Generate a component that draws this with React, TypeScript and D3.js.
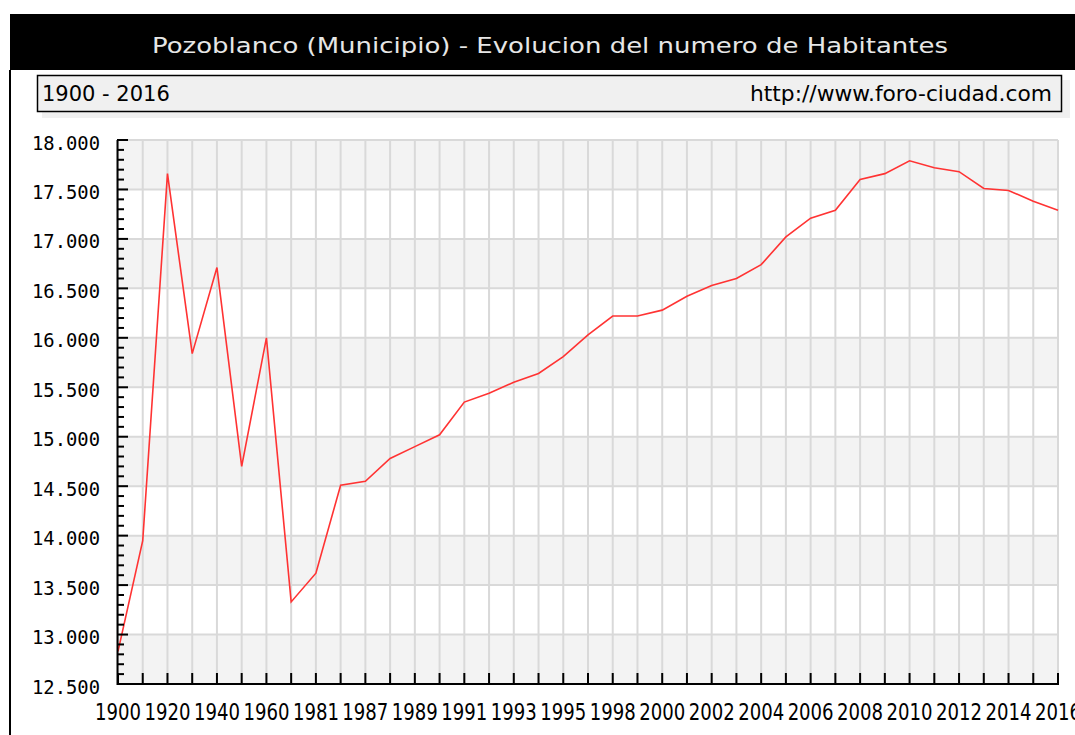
import React from "react";
import * as d3 from "d3";

const width = 1075;
const height = 735;

const titleText = "Pozoblanco (Municipio) - Evolucion del numero de Habitantes";
const rangeText = "1900 - 2016";
const sourceText = "http://www.foro-ciudad.com";

const years = [
  "1900", "1910", "1920", "1930", "1940", "1950", "1960", "1970", "1981",
  "1986", "1987", "1988", "1989", "1990", "1991", "1992", "1993", "1994",
  "1995", "1996", "1998", "1999", "2000", "2001", "2002", "2003", "2004",
  "2005", "2006", "2007", "2008", "2009", "2010", "2011", "2012", "2013",
  "2014", "2015", "2016",
];

const habitantes = [
  12830, 13950, 17660, 15840, 16710, 14700, 16000, 13330, 13620,
  14510, 14550, 14780, 14900, 15020, 15350, 15440, 15550, 15640,
  15810, 16030, 16220, 16220, 16280, 16420, 16530, 16600, 16740,
  17020, 17210, 17290, 17600, 17660, 17790, 17720, 17680, 17510,
  17490, 17380, 17290,
];

const yMajorTicks = [12500, 13000, 13500, 14000, 14500, 15000, 15500, 16000, 16500, 17000, 17500, 18000];

const plot = { left: 118, right: 1058, top: 140, bottom: 684 };

const esFormat = d3
  .formatLocale({ decimal: ",", thousands: ".", grouping: [3], currency: ["", ""] })
  .format(",.0f");

export default function App() {
  const x = d3.scalePoint<string>().domain(years).range([plot.left, plot.right]);
  const y = d3.scaleLinear().domain([12500, 18000]).range([plot.bottom, plot.top]);

  const minorTicks = d3.range(12500, 18001, 100);

  const line = d3
    .line<number>()
    .x((_, i) => x(years[i]) as number)
    .y((d) => y(d));

  return (
    <svg
      width={width}
      height={height}
      style={{ position: "absolute", left: 0, top: 0, background: "#ffffff" }}
    >
      {/* title bar */}
      <rect x={10} y={14} width={1065} height={56} fill="#000000" />
      <text
        x={550}
        y={53}
        fill="#e6e6e6"
        textAnchor="middle"
        textLength={796}
        lengthAdjust="spacingAndGlyphs"
        style={{ fontFamily: "DejaVu Sans", fontSize: "22px" }}
      >
        {titleText}
      </text>
      <line x1={10} x2={10} y1={70} y2={height} stroke="#000000" strokeWidth={2} />

      {/* subtitle box */}
      <rect x={42} y={80} width={1028} height={38} fill="#f0f0f0" />
      <rect x={37.5} y={75.5} width={1024} height={36} fill="#f0f0f0" stroke="#000000" strokeWidth={1.5} />
      <text x={42} y={101} fill="#000000" style={{ fontFamily: "DejaVu Sans", fontSize: "21px" }}>
        {rangeText}
      </text>
      <text
        x={1052}
        y={101}
        fill="#000000"
        textAnchor="end"
        textLength={302}
        lengthAdjust="spacingAndGlyphs"
        style={{ fontFamily: "DejaVu Sans", fontSize: "21px" }}
      >
        {sourceText}
      </text>

      {/* alternating bands */}
      {yMajorTicks.slice(0, -1).map((v, i) => (
        <rect
          key={"band" + v}
          x={plot.left}
          y={y(v + 500)}
          width={plot.right - plot.left}
          height={y(v) - y(v + 500)}
          fill={i % 2 === 0 ? "#f3f3f3" : "#ffffff"}
        />
      ))}

      {/* grid */}
      {yMajorTicks.map((v) => (
        <line
          key={"hg" + v}
          x1={plot.left}
          x2={plot.right}
          y1={y(v)}
          y2={y(v)}
          stroke="#d9d9d9"
          strokeWidth={2}
        />
      ))}
      {years.map((yr) => (
        <line
          key={"vg" + yr}
          x1={x(yr)}
          x2={x(yr)}
          y1={plot.top}
          y2={plot.bottom}
          stroke="#d9d9d9"
          strokeWidth={2}
        />
      ))}

      {/* data line */}
      <path d={line(habitantes) || ""} fill="none" stroke="#ff3333" strokeWidth={1.6} />

      {/* y axis */}
      <line x1={117.5} x2={117.5} y1={plot.top} y2={plot.bottom + 1} stroke="#000000" strokeWidth={2} />
      {minorTicks.map((v) => (
        <line
          key={"yt" + v}
          x1={117}
          x2={v % 500 === 0 ? 128 : 124}
          y1={y(v)}
          y2={y(v)}
          stroke="#000000"
          strokeWidth={2}
        />
      ))}
      {yMajorTicks.map((v) => (
        <text
          key={"yl" + v}
          x={100}
          y={y(v) + 9.5}
          textAnchor="end"
          textLength={68}
          lengthAdjust="spacingAndGlyphs"
          fill="#000000"
          style={{ fontFamily: "DejaVu Sans Mono", fontSize: "20px" }}
        >
          {esFormat(v)}
        </text>
      ))}

      {/* x axis */}
      <line x1={117} x2={plot.right + 1} y1={plot.bottom} y2={plot.bottom} stroke="#000000" strokeWidth={2} />
      {years.map((yr) => (
        <line
          key={"xt" + yr}
          x1={x(yr)}
          x2={x(yr)}
          y1={plot.bottom}
          y2={plot.bottom - 11}
          stroke="#000000"
          strokeWidth={2}
        />
      ))}
      {years.map((yr, i) =>
        i % 2 === 0 ? (
          <text
            key={"xl" + yr}
            x={x(yr)}
            y={720}
            textAnchor="middle"
            textLength={46}
            lengthAdjust="spacingAndGlyphs"
            fill="#000000"
            style={{ fontFamily: "DejaVu Sans Condensed, DejaVu Sans", fontStretch: "condensed", fontSize: "23px" }}
          >
            {yr}
          </text>
        ) : null
      )}
    </svg>
  );
}
